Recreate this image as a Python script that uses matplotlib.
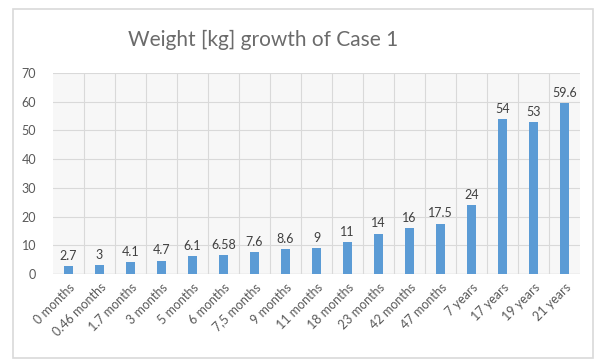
import matplotlib
matplotlib.use("Agg")
import matplotlib.pyplot as plt
from matplotlib.patches import Rectangle

# data
ages = ["0 months", "0.46 months", "1.7 months", "3 months", "5 months", "6 months",
        "7,5 months", "9 months", "11 months", "18 months", "23 months", "42 months",
        "47 months", "7 years", "17 years", "19 years", "21 years"]
weights = [2.7, 3, 4.1, 4.7, 6.1, 6.58, 7.6, 8.6, 9, 11, 14, 16, 17.5, 24, 54, 53, 59.6]
value_labels = ["2.7", "3", "4.1", "4.7", "6.1", "6.58", "7.6", "8.6", "9", "11", "14",
                "16", "17.5", "24", "54", "53", "59.6"]

plt.rcParams['font.family'] = ['Lato', 'DejaVu Sans']
TXT = "#595959"

fig = plt.figure(figsize=(6.08, 3.62), dpi=100)
fig.patches.append(Rectangle((13 / 608, 4 / 362), 580 / 608, 349 / 362,
                             transform=fig.transFigure, fill=False,
                             edgecolor="#d9d9d9", linewidth=1.2))

ax = fig.add_axes([53 / 608, 88 / 362, 527 / 608, 201 / 362])
ax.set_facecolor("#f7f7f7")
x = range(len(ages))
bars = ax.bar(x, weights, width=0.3, color="#5b9bd5", zorder=3)
for b, lab in zip(bars, value_labels):
    ax.text(b.get_x() + b.get_width() / 2, b.get_height() + 1.5, lab,
            ha="center", va="bottom", fontsize=9, color="#404040")

ax.set_xlim(-0.5, len(ages) - 0.5)
ax.set_ylim(0, 70)
ax.set_yticks(range(0, 71, 10))
ax.set_xticks(list(x))
ax.set_xticklabels(ages, rotation=45, ha="right", rotation_mode="anchor",
                   fontsize=9, color=TXT)
ax.tick_params(axis="y", labelsize=9, colors=TXT, length=0, pad=12)
ax.tick_params(axis="x", length=0, pad=5)

ax.set_xticks([i + 0.5 for i in range(len(ages) - 1)], minor=True)
ax.grid(axis="y", color="#d9d9d9", linewidth=0.8, zorder=0)
ax.grid(axis="x", which="minor", color="#d9d9d9", linewidth=0.8, zorder=0)
ax.tick_params(axis="x", which="minor", length=0)
for s in ax.spines.values():
    s.set_visible(False)
ax.axhline(0, color="#d9d9d9", linewidth=1, zorder=2)

fig.text(263 / 608, 1 - 40 / 362, "Weight [kg] growth of Case 1", ha="center",
         va="center", fontsize=15, color="#6b6b6b")

fig.savefig("out.png", dpi=100)
